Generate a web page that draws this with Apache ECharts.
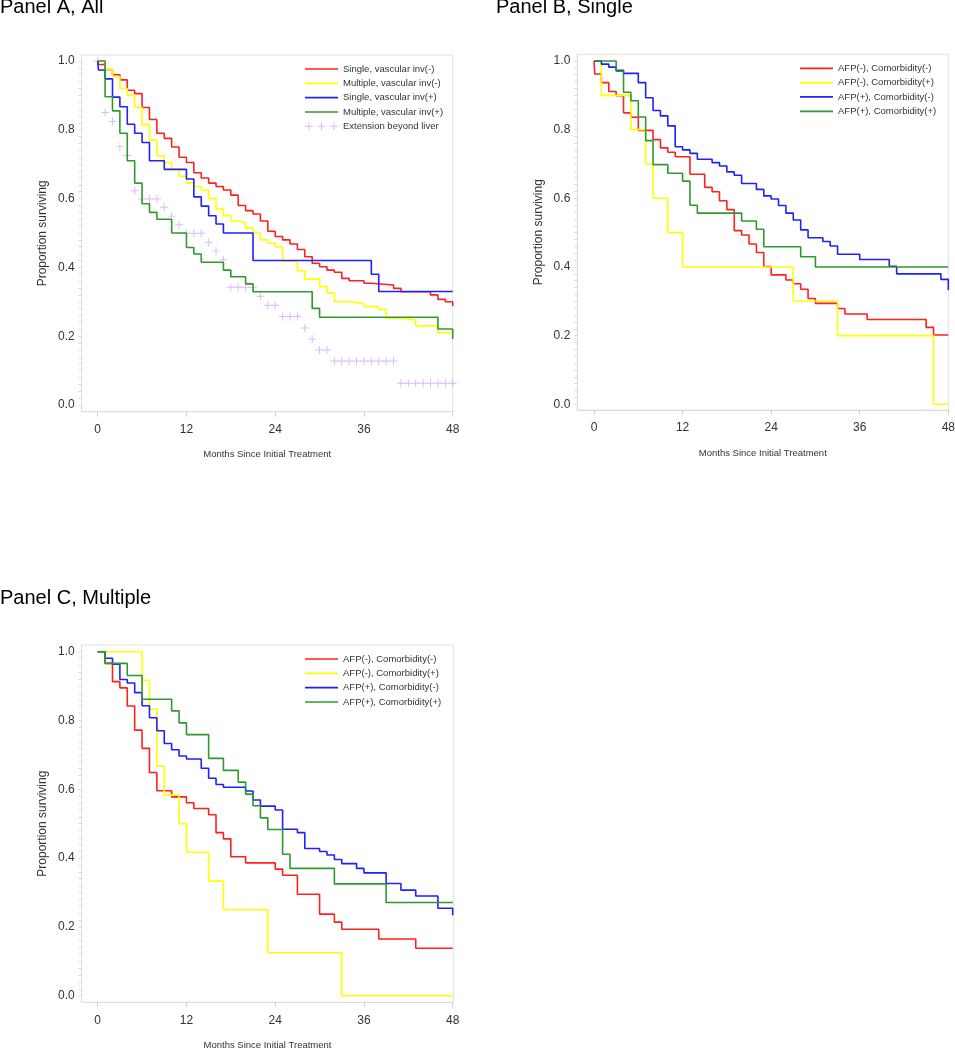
<!DOCTYPE html>
<html><head><meta charset="utf-8">
<script src="https://cdn.jsdelivr.net/npm/echarts@6/dist/echarts.min.js"></script>
<style>html,body{margin:0;padding:0;background:#fff}#c{width:955px;height:1050px}</style>
</head><body><div id="c"></div>
<script>
const FONT = '"Liberation Sans", Arial, sans-serif';
const xTicks = [0, 12, 24, 36, 48];
const yTicks = [0, 0.2, 0.4, 0.6, 0.8, 1.0];
const titles = ['Panel A, All', 'Panel B, Single', 'Panel C, Multiple'];
const xTitle = 'Months Since Initial Treatment';
const yTitle = 'Proportion surviving';

const namesA = ['Single, vascular inv(-)', 'Multiple, vascular inv(-)', 'Single, vascular inv(+)', 'Multiple, vascular inv(+)', 'Extension beyond liver'];
const namesBC = ['AFP(-), Comorbidity(-)', 'AFP(-), Comorbidity(+)', 'AFP(+), Comorbidity(-)', 'AFP(+), Comorbidity(+)'];

// Panel A: [month, proportion surviving]
const aSingleVNeg = [[0,1],[0.1,0.99],[1,0.975],[2,0.96],[3,0.945],[4,0.915],[5,0.905],[6,0.865],[7,0.83],[8,0.79],[9,0.775],[10,0.75],[11,0.72],[12,0.705],[13,0.675],[14,0.66],[15,0.645],[16,0.635],[17,0.625],[18,0.61],[19,0.58],[20,0.565],[21,0.555],[22,0.535],[23,0.505],[24,0.49],[25,0.48],[26,0.468],[27,0.452],[28,0.431],[29,0.412],[30,0.402],[31,0.392],[32,0.386],[33,0.368],[34,0.361],[36,0.354],[37,0.349],[40,0.339],[41,0.329],[45,0.32],[46,0.307],[47,0.30],[48,0.288]];
const aMultiVNeg = [[0,1],[1,0.975],[2,0.955],[3,0.92],[4,0.90],[5,0.865],[6,0.815],[7,0.77],[8,0.725],[9,0.705],[10,0.685],[11,0.665],[12,0.645],[13,0.635],[14,0.625],[15,0.60],[16,0.57],[17,0.55],[18,0.535],[19,0.53],[20,0.515],[21,0.50],[22,0.48],[23,0.47],[24,0.46],[25,0.417],[27,0.39],[28,0.366],[30,0.344],[31,0.326],[32,0.30],[34,0.295],[36,0.286],[38,0.278],[39,0.252],[41,0.247],[43,0.23],[46,0.21],[48,0.21]];
const aSingleVPos = [[0,1],[0.1,0.974],[1,0.948],[2,0.895],[3,0.867],[4,0.816],[5,0.79],[6,0.763],[7,0.71],[9,0.685],[12,0.657],[13,0.605],[14,0.578],[15,0.55],[16,0.526],[17,0.50],[21,0.42],[37,0.38],[38,0.33],[48,0.33]];
const aMultiVPos = [[0,1],[1,0.896],[2,0.855],[3,0.79],[4,0.71],[5,0.645],[6,0.585],[7,0.56],[8,0.54],[10,0.50],[12,0.458],[13,0.439],[14,0.415],[17,0.392],[18,0.373],[20,0.352],[21,0.329],[29,0.281],[30,0.255],[46,0.221],[48,0.192]];
const aExtension = [[0,1],[1,0.85],[2,0.824],[3,0.751],[4,0.725],[5,0.623],[6,0.599],[7,0.599],[8,0.599],[9,0.575],[10,0.549],[11,0.524],[12,0.499],[13,0.499],[14,0.499],[15,0.473],[16,0.448],[17,0.422],[18,0.342],[19,0.342],[20,0.342],[21,0.342],[22,0.316],[23,0.29],[24,0.29],[25,0.257],[26,0.257],[27,0.257],[28,0.224],[29,0.192],[30,0.16],[31,0.16],[32,0.128],[33,0.128],[34,0.128],[35,0.128],[36,0.128],[37,0.128],[38,0.128],[39,0.128],[40,0.128],[41,0.063],[42,0.063],[43,0.063],[44,0.063],[45,0.063],[46,0.063],[47,0.063],[48,0.063]];

// Panel B (Single)
const bAfpNegComNeg = [[0,1],[0.1,0.962],[1,0.937],[2,0.911],[3,0.899],[4,0.849],[5,0.836],[6,0.798],[8,0.771],[9,0.747],[10,0.734],[11,0.721],[13,0.67],[15,0.632],[16,0.619],[17,0.593],[18,0.567],[19,0.506],[20,0.493],[21,0.467],[22,0.442],[23,0.401],[24,0.377],[26,0.362],[27,0.351],[28,0.335],[29,0.308],[30,0.294],[33,0.279],[34,0.263],[37,0.247],[45,0.224],[46,0.202],[48,0.202]];
const bAfpNegComPos = [[0,1],[1,0.9],[5,0.8],[7,0.7],[8,0.6],[10,0.5],[12,0.4],[27,0.3],[33,0.2],[46,0],[48,0]];
const bAfpPosComNeg = [[0,1],[1,0.991],[2,0.982],[3,0.973],[4,0.964],[6,0.937],[7,0.893],[8,0.856],[9,0.84],[10,0.811],[11,0.75],[12,0.741],[13,0.731],[14,0.714],[16,0.704],[17,0.694],[18,0.677],[19,0.667],[20,0.643],[22,0.626],[23,0.607],[24,0.598],[25,0.579],[26,0.557],[27,0.537],[28,0.508],[29,0.485],[31,0.474],[32,0.461],[33,0.437],[36,0.422],[40,0.402],[41,0.38],[47,0.364],[48,0.333]];
const bAfpPosComPos = [[0,1],[3,0.97],[4,0.909],[5,0.884],[6,0.837],[7,0.768],[8,0.698],[10,0.673],[12,0.65],[13,0.58],[14,0.557],[20,0.534],[22,0.51],[23,0.459],[28,0.43],[30,0.40],[48,0.40]];

// Panel C (Multiple)
const cAfpNegComNeg = [[0,1],[1,0.966],[2,0.913],[3,0.895],[4,0.842],[5,0.772],[6,0.719],[7,0.649],[8,0.596],[10,0.578],[12,0.561],[13,0.544],[15,0.526],[16,0.474],[17,0.456],[18,0.404],[20,0.386],[24,0.368],[25,0.35],[27,0.295],[30,0.237],[32,0.214],[33,0.193],[38,0.165],[43,0.138],[48,0.138]];
const cAfpNegComPos = [[0,1],[6,0.917],[7,0.833],[8,0.667],[9,0.583],[11,0.5],[12,0.417],[15,0.333],[17,0.25],[23,0.125],[33,0],[48,0]];
const cAfpPosComNeg = [[0,1],[1,0.981],[2,0.964],[3,0.919],[4,0.909],[5,0.881],[6,0.843],[7,0.808],[8,0.77],[9,0.733],[10,0.715],[11,0.697],[12,0.688],[14,0.661],[15,0.632],[16,0.614],[17,0.606],[20,0.595],[21,0.569],[22,0.551],[24,0.54],[25,0.484],[27,0.474],[28,0.428],[30,0.419],[31,0.409],[32,0.396],[33,0.384],[35,0.37],[36,0.357],[39,0.326],[41,0.307],[43,0.29],[46,0.254],[48,0.234]];
const cAfpPosComPos = [[0,1],[1,0.966],[4,0.931],[6,0.862],[10,0.828],[11,0.793],[12,0.759],[15,0.69],[17,0.655],[19,0.621],[20,0.586],[21,0.552],[22,0.517],[23,0.483],[25,0.411],[26,0.37],[32,0.325],[39,0.271],[48,0.271]];

const COLORS = ['#ff2020', '#ffff00', '#2020ff', '#2e9a2e'];
const PURPLE = '#d6a6f2';
const PLUS = 'path://M4.4,0 L5.6,0 L5.6,4.4 L10,4.4 L10,5.6 L5.6,5.6 L5.6,10 L4.4,10 L4.4,5.6 L0,5.6 L0,4.4 L4.4,4.4 Z';
const PLUS3 = 'path://' + [4, 16.5, 29].map(function (c) {
  return 'M' + (c - 0.5) + ',0 L' + (c + 0.5) + ',0 L' + (c + 0.5) + ',3.5 L' + (c + 4) + ',3.5 L' + (c + 4) + ',4.5 L' + (c + 0.5) + ',4.5 L' + (c + 0.5) + ',8 L' + (c - 0.5) + ',8 L' + (c - 0.5) + ',4.5 L' + (c - 4) + ',4.5 L' + (c - 4) + ',3.5 L' + (c - 0.5) + ',3.5 Z';
}).join(' ');
const LINEICON = 'path://M0,0 L33,0 L33,1.7 L0,1.7 Z';

const yMinor = [];
for (let i = 0; i <= 50; i++) yMinor.push(i / 50);

const grids = [
  {left: 81.7, top: 55, width: 371, height: 356.7, xmin: -2.163, xmax: 48, ymin: -0.0195, ymax: 1.0174},
  {left: 577.3, top: 54.3, width: 371, height: 355.7, xmin: -2.263, xmax: 48, ymin: -0.0166, ymax: 1.0195},
  {left: 81.7, top: 645, width: 371.6, height: 357.3, xmin: -2.163, xmax: 48.08, ymin: -0.0192, ymax: 1.0195}
];

const txt = {fontFamily: FONT, color: '#333'};

const option = {
  backgroundColor: '#fff',
  animation: false,
  title: titles.map(function (t, i) {
    return {text: t, left: i === 1 ? 496 : 0, top: i === 2 ? 588 : -3, padding: 0,
      textStyle: {fontFamily: FONT, fontSize: 20, fontWeight: 'normal', color: '#000'}};
  }),
  grid: grids.map(function (g) {
    return {left: g.left, top: g.top, width: g.width, height: g.height, show: true,
      borderColor: '#e2e2e2', borderWidth: 1, backgroundColor: 'transparent',
      containLabel: false, outerBoundsMode: 'none'};
  }),
  xAxis: grids.map(function (g, i) {
    return {gridIndex: i, type: 'value', min: g.xmin, max: g.xmax,
      axisLine: {show: true, onZero: false, lineStyle: {color: '#dcdcdc', width: 1}},
      axisTick: {show: true, customValues: xTicks, length: 5, lineStyle: {color: '#d0d0d0'}},
      axisLabel: {customValues: xTicks, margin: 12, fontSize: 12, fontFamily: FONT, color: '#333'},
      splitLine: {show: false},
      name: xTitle, nameLocation: 'middle', nameGap: 38,
      nameTextStyle: {fontSize: 9.5, fontFamily: FONT, color: '#333'}};
  }),
  yAxis: grids.map(function (g, i) {
    return {gridIndex: i, type: 'value', min: g.ymin, max: g.ymax,
      axisLine: {show: true, onZero: false, lineStyle: {color: '#dcdcdc', width: 1}},
      axisTick: {show: true, customValues: yMinor, length: 3, lineStyle: {color: '#d8d8d8'}},
      axisLabel: {customValues: yTicks, formatter: function (v) { return v.toFixed(1); },
        margin: 7, fontSize: 12, fontFamily: FONT, color: '#333'},
      splitLine: {show: false},
      name: yTitle, nameLocation: 'middle', nameGap: 33,
      nameTextStyle: {fontSize: 12, fontFamily: FONT, color: '#333'}};
  }),
  legend: [
    {left: 305, top: 64, data: namesA},
    {left: 800, top: 63.3, data: namesBC},
    {left: 305, top: 654, data: namesBC}
  ].map(function (l) {
    return {left: l.left, top: l.top, orient: 'vertical', padding: 0, itemWidth: 33, itemHeight: 10,
      itemGap: 4.33, selectedMode: false, itemStyle: {borderWidth: 0},
      textStyle: {fontFamily: FONT, fontSize: 9.5, color: '#333', lineHeight: 10},
      data: l.data.map(function (n) {
        return {name: n, icon: n === 'Extension beyond liver' ? PLUS3 : LINEICON};
      })};
  }),
  series: []
};

function step(name, data, gi, ci) {
  return {type: 'line', name: name, data: data, xAxisIndex: gi, yAxisIndex: gi, step: 'end',
    symbol: 'none', showSymbol: false, silent: true, color: COLORS[ci],
    lineStyle: {width: 1.6, color: COLORS[ci]}, itemStyle: {color: COLORS[ci]}};
}

option.series.push({type: 'scatter', name: namesA[4], data: aExtension, xAxisIndex: 0, yAxisIndex: 0,
  symbol: PLUS, symbolSize: 8, silent: true, color: PURPLE, itemStyle: {color: PURPLE}});
[aSingleVNeg, aMultiVNeg, aSingleVPos, aMultiVPos].forEach(function (d, i) { option.series.push(step(namesA[i], d, 0, i)); });
[bAfpNegComNeg, bAfpNegComPos, bAfpPosComNeg, bAfpPosComPos].forEach(function (d, i) { option.series.push(step(namesBC[i], d, 1, i)); });
[cAfpNegComNeg, cAfpNegComPos, cAfpPosComNeg, cAfpPosComPos].forEach(function (d, i) { option.series.push(step(namesBC[i], d, 2, i)); });

const chart = echarts.init(document.getElementById('c'), null, {renderer: 'canvas', width: 955, height: 1050});
chart.setOption(option);
</script>
</body></html>
